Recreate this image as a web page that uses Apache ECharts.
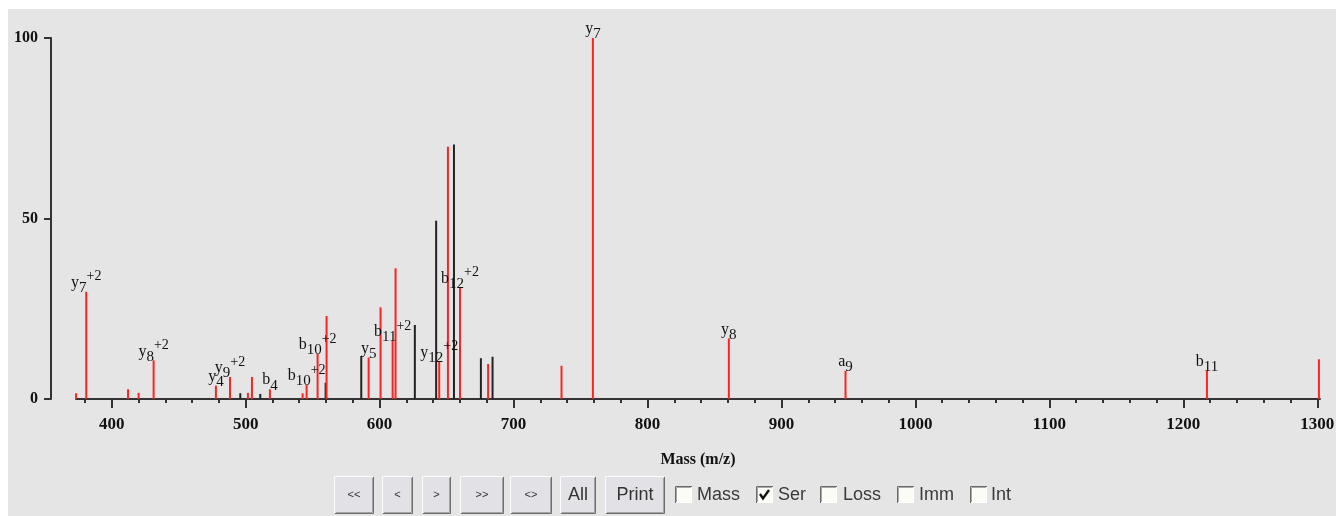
<!DOCTYPE html>
<html>
<head>
<meta charset="utf-8">
<script src="https://cdn.jsdelivr.net/npm/echarts@6/dist/echarts.min.js"></script>
<style>
html,body{margin:0;padding:0;background:#fff;}
#chart{width:1336px;height:516px;}
</style>
</head>
<body>
<div id="chart"></div>
<script>
// Matched (red) peaks: m/z, relative intensity, ion annotation
const redMz = [373.4, 381.0, 412.2, 420.1, 431.3, 477.8, 488.3, 501.7, 504.7, 518.1, 542.5, 545.5, 553.7, 560.4, 591.8, 600.7, 609.7, 611.9, 644.5, 651.0, 660.0, 681.0, 735.8, 759.2, 860.7, 947.8, 1217.6, 1301.2];
const redInt = [1.6, 29.7, 2.7, 1.7, 10.7, 3.7, 6.1, 1.7, 6.1, 2.7, 1.6, 3.9, 12.5, 23.0, 11.5, 25.4, 16.1, 36.2, 10.3, 69.9, 30.9, 9.7, 9.2, 100, 16.8, 7.8, 7.8, 11.0];
const redLabels = ['', 'y7+2', '', '', 'y8+2', 'y4', 'y9+2', '', '', 'b4', '', 'b10+2', 'b10+2', '', 'y5', '', 'b11+2', '', 'y12+2', '', 'b12+2', '', '', 'y7', 'y8', 'a9', 'b11', ''];
// Unmatched (black) peaks
const blackMz = [496.0, 510.9, 559.7, 586.3, 626.3, 642.2, 655.5, 675.6, 684.3];
const blackInt = [1.6, 1.4, 4.5, 11.9, 20.5, 49.4, 70.5, 11.3, 11.7];
// Axis ticks
const xMajorTicks = [400, 500, 600, 700, 800, 900, 1000, 1100, 1200, 1300];
const xMinorTicks = [380, 420, 440, 460, 480, 520, 540, 560, 580, 620, 640, 660, 680, 720, 740, 760, 780, 820, 840, 860, 880, 920, 940, 960, 980, 1020, 1040, 1060, 1080, 1120, 1140, 1160, 1180, 1220, 1240, 1260, 1280, 1300];
const yTicks = [0, 50, 100];
// Controls
const buttonLabels = ['<<', '<', '>', '>>', '<>', 'All', 'Print'];
const checkLabels = ['Mass', 'Ser', 'Loss', 'Imm', 'Int'];
const checkStates = [false, true, false, false, false];

const SERIF = '"Liberation Serif", "DejaVu Serif", serif';
const SANS = '"Liberation Sans", "DejaVu Sans", sans-serif';

function richLabel(s) {
  const m = s.match(/^([a-z])(\d+)(\+2)?$/);
  if (!m) return '';
  return '{b|' + m[1] + '}{s|' + m[2] + '}' + (m[3] ? '{p|' + m[3] + '}' : '');
}

const chart = echarts.init(document.getElementById('chart'), null, {renderer: 'canvas'});

// control graphics
const btnX = [[334, 374], [382, 413], [422, 451], [460, 504], [510, 552], [560, 596], [605, 665]];
const chkX = [[675, 697], [756, 778], [820, 843], [897, 919], [970, 991]];
const graphics = [
  {type: 'rect', silent: true, z: -10, shape: {x: 8, y: 9, width: 1328, height: 507}, style: {fill: '#e5e5e5'}}
];
buttonLabels.forEach((t, i) => {
  const x0 = btnX[i][0], x1 = btnX[i][1], y0 = 476, y1 = 514;
  const small = t.length <= 2 && t !== 'All';
  graphics.push({type: 'rect', silent: true, shape: {x: x0, y: y0, width: x1 - x0, height: y1 - y0}, style: {fill: '#e1e1e6', stroke: null}});
  graphics.push({type: 'polyline', silent: true, shape: {points: [[x0 + 0.5, y1 - 1], [x0 + 0.5, y0 + 0.5], [x1 - 1, y0 + 0.5]]}, style: {stroke: '#fbfbfb', lineWidth: 1, fill: null}});
  graphics.push({type: 'polyline', silent: true, shape: {points: [[x0 + 1, y1 - 0.5], [x1 - 0.5, y1 - 0.5], [x1 - 0.5, y0 + 1]]}, style: {stroke: '#6e6e6e', lineWidth: 1, fill: null}});
  graphics.push({type: 'polyline', silent: true, shape: {points: [[x0 + 2, y1 - 1.5], [x1 - 1.5, y1 - 1.5], [x1 - 1.5, y0 + 2]]}, style: {stroke: '#a4a4a8', lineWidth: 1, fill: null}});
  graphics.push({type: 'text', silent: true, style: {text: t, x: (x0 + x1) / 2, y: 495, align: 'center', verticalAlign: 'middle', font: (small ? '11px ' : '18px ') + SANS, fill: '#333'}});
});
checkLabels.forEach((t, i) => {
  const bx = chkX[i][0], by = 486, s = 17;
  graphics.push({type: 'rect', silent: true, shape: {x: bx, y: by, width: s, height: s}, style: {fill: '#fcfcf6'}});
  graphics.push({type: 'polyline', silent: true, shape: {points: [[bx + 0.5, by + s], [bx + 0.5, by + 0.5], [bx + s, by + 0.5]]}, style: {stroke: '#6a6a6a', lineWidth: 1, fill: null}});
  graphics.push({type: 'polyline', silent: true, shape: {points: [[bx + 1.5, by + s - 1], [bx + 1.5, by + 1.5], [bx + s - 1, by + 1.5]]}, style: {stroke: '#a8a8a8', lineWidth: 1, fill: null}});
  graphics.push({type: 'polyline', silent: true, shape: {points: [[bx + 1, by + s - 0.5], [bx + s - 0.5, by + s - 0.5], [bx + s - 0.5, by + 1]]}, style: {stroke: '#ffffff', lineWidth: 1, fill: null}});
  if (checkStates[i]) {
    graphics.push({type: 'polyline', silent: true, shape: {points: [[bx + 4, by + 8], [bx + 7, by + 12.5], [bx + 13, by + 4]]}, style: {stroke: '#111', lineWidth: 2.4, fill: null}});
  }
  graphics.push({type: 'text', silent: true, style: {text: t, x: chkX[i][1], y: 495, align: 'left', verticalAlign: 'middle', font: '18px ' + SANS, fill: '#3a3a3a'}});
});

const labelRich = {
  b: {fontFamily: SERIF, fontSize: 16, lineHeight: 26, verticalAlign: 'middle', color: '#111'},
  s: {fontFamily: SERIF, fontSize: 15, lineHeight: 14, verticalAlign: 'bottom', color: '#111'},
  p: {fontFamily: SERIF, fontSize: 14, lineHeight: 8, verticalAlign: 'top', color: '#111'}
};

const option = {
  backgroundColor: '#ffffff',
  animation: false,
  graphic: graphics,
  grid: {left: 76, right: 16, top: 38, bottom: 117, containLabel: false, outerBoundsMode: 'none'},
  xAxis: [
    {
      type: 'value', position: 'bottom', min: 373.35, max: 1302,
      name: 'Mass (m/z)', nameLocation: 'middle', nameGap: 53,
      nameTextStyle: {fontFamily: SERIF, fontWeight: 'bold', fontSize: 16, color: '#111'},
      axisLine: {show: true, onZero: false, lineStyle: {color: '#333', width: 2}},
      axisTick: {show: true, customValues: xMajorTicks, length: 9, lineStyle: {color: '#333', width: 2}},
      axisLabel: {show: true, customValues: xMajorTicks, margin: 17, fontFamily: SERIF, fontWeight: 'bold', fontSize: 17, color: '#111',
        formatter: v => String(v)},
      splitLine: {show: false}
    },
    {
      type: 'value', position: 'bottom', min: 373.35, max: 1302,
      axisLine: {show: false},
      axisTick: {show: true, customValues: xMinorTicks, length: 4, lineStyle: {color: '#333', width: 2}},
      axisLabel: {show: false},
      splitLine: {show: false}
    }
  ],
  yAxis: {
    type: 'value', min: 0, max: 100, interval: 50, offset: 25,
    axisLine: {show: true, lineStyle: {color: '#333', width: 2}},
    axisTick: {show: true, length: 7, lineStyle: {color: '#333', width: 2}},
    axisLabel: {margin: 13, fontFamily: SERIF, fontWeight: 'bold', fontSize: 16, color: '#111',
      customValues: yTicks, formatter: v => String(v)},
    splitLine: {show: false}
  },
  series: [
    {
      type: 'bar', name: 'unmatched', xAxisIndex: 0, barWidth: 2, barGap: '-100%',
      itemStyle: {color: '#222'},
      data: blackMz.map((m, i) => [m, blackInt[i]])
    },
    {
      type: 'bar', name: 'matched', xAxisIndex: 0, barWidth: 2, barGap: '-100%',
      itemStyle: {color: '#ff2222'},
      label: {
        show: true, position: 'top', distance: -4,
        formatter: p => richLabel(redLabels[p.dataIndex]),
        rich: labelRich
      },
      labelLayout: {hideOverlap: false},
      data: redMz.map((m, i) => [m, redInt[i]])
    }
  ]
};
chart.setOption(option);
</script>
</body>
</html>
